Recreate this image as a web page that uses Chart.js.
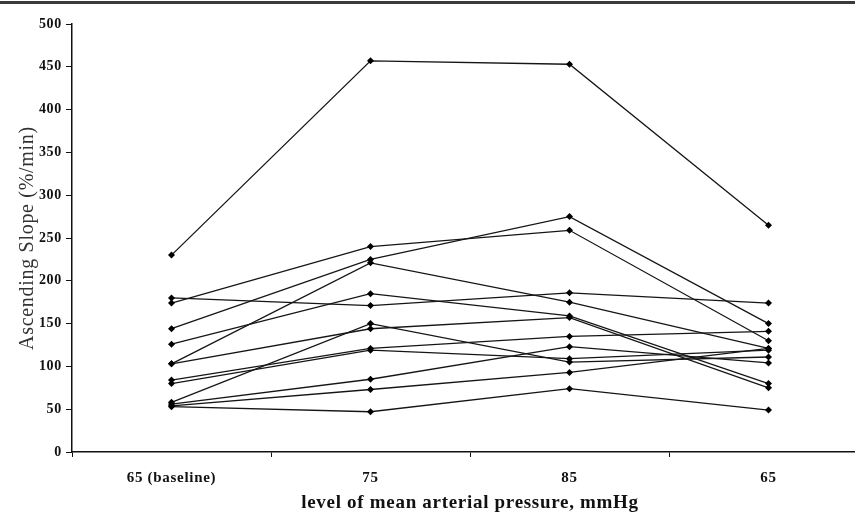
<!DOCTYPE html>
<html>
<head>
<meta charset="utf-8">
<script src="https://cdn.jsdelivr.net/npm/chart.js@4/dist/chart.umd.min.js"></script>
<style>
  html, body { margin: 0; padding: 0; background: #fff; overflow: hidden; }
  #wrap { width: 872px; height: 514px; }
</style>
</head>
<body>
<div id="wrap"><canvas id="slopeChart" width="872" height="514"></canvas></div>
<script>
const categories = ['65 (baseline)', '75', '85', '65']

// one array per subject, ascending slope (%/min) at each pressure level
const subj1 = [230, 457, 453, 265]
const subj2 = [174, 240, 259, 130]
const subj3 = [144, 225, 275, 150]
const subj4 = [103, 221, 175, 121]
const subj5 = [180, 171, 186, 174]
const subj6 = [126, 185, 159, 80]
const subj7 = [103, 144, 157, 75]
const subj8 = [84, 121, 135, 141]
const subj9 = [80, 119, 109, 119]
const subj10 = [58, 150, 105, 111]
const subj11 = [56, 85, 123, 104]
const subj12 = [54, 73, 93, 121]
const subj13 = [53, 47, 74, 49]

const subjects = [subj1, subj2, subj3, subj4, subj5, subj6, subj7,
    subj8, subj9, subj10, subj11, subj12, subj13]

const yTicks = [0, 50, 100, 150, 200, 250, 300, 350, 400, 450, 500]

const ctx = document.getElementById('slopeChart')

// the scanned figure has its lettering a little spread out
const spacing = {
    id: 'spacing',
    beforeUpdate (chart) {
        chart.ctx.letterSpacing = '0.7px'
    },
    beforeDraw (chart) {
        const c = chart.ctx
        c.letterSpacing = '0.7px'
        c.save()
        c.fillStyle = '#3a3a3a'
        c.fillRect(0, 1, chart.width, 3)
        c.restore()
    }
}

const data = {
    labels: categories,
    datasets: subjects.map((vals, i) => ({
        label: 'subject ' + (i + 1),
        data: vals,
        borderColor: '#151515',
        backgroundColor: '#000',
        borderWidth: 1.3,
        pointRadius: 3.5,
        pointStyle: 'rectRot',
        pointBorderWidth: 0,
        tension: 0,
        fill: false
    }))
}

const options = {
    responsive: false,
    animation: false,
    layout: { padding: { top: 24, right: 4, left: 0, bottom: 0 } },
    plugins: {
        legend: { display: false },
        tooltip: { enabled: false }
    },
    scales: {
        x: {
            type: 'category',
            offset: true,
            afterFit (axis) { axis.height = 62 },
            border: { color: '#111', width: 1.5 },
            grid: { offset: true, drawOnChartArea: false, drawTicks: true, tickLength: 5, color: '#111' },
            ticks: {
                color: '#111',
                padding: 12,
                font: { family: 'Liberation Serif', size: 15, weight: 'bold' }
            },
            title: {
                display: true,
                text: 'level of mean arterial pressure, mmHg',
                color: '#111',
                padding: { top: 0, bottom: 0 },
                font: { family: 'Liberation Serif', size: 19, weight: 'bold' }
            }
        },
        y: {
            min: 0,
            max: 500,
            afterFit (axis) { axis.width = 72 },
            afterBuildTicks (axis) {
                axis.ticks = yTicks.map(v => ({ value: v }))
            },
            border: { color: '#111', width: 1.5 },
            grid: { drawOnChartArea: false, drawTicks: true, tickLength: 6, color: '#111' },
            ticks: {
                color: '#111',
                padding: 4,
                font: { family: 'Liberation Serif', size: 14, weight: 'bold' }
            },
            title: {
                display: true,
                text: 'Ascending Slope (%/min)',
                color: '#333',
                padding: { top: 16, bottom: 0 },
                font: { family: 'Liberation Serif', size: 20 }
            }
        }
    }
}

new Chart(ctx, {
    type: 'line',
    data,
    options,
    plugins: [spacing]
})
</script>
</body>
</html>
